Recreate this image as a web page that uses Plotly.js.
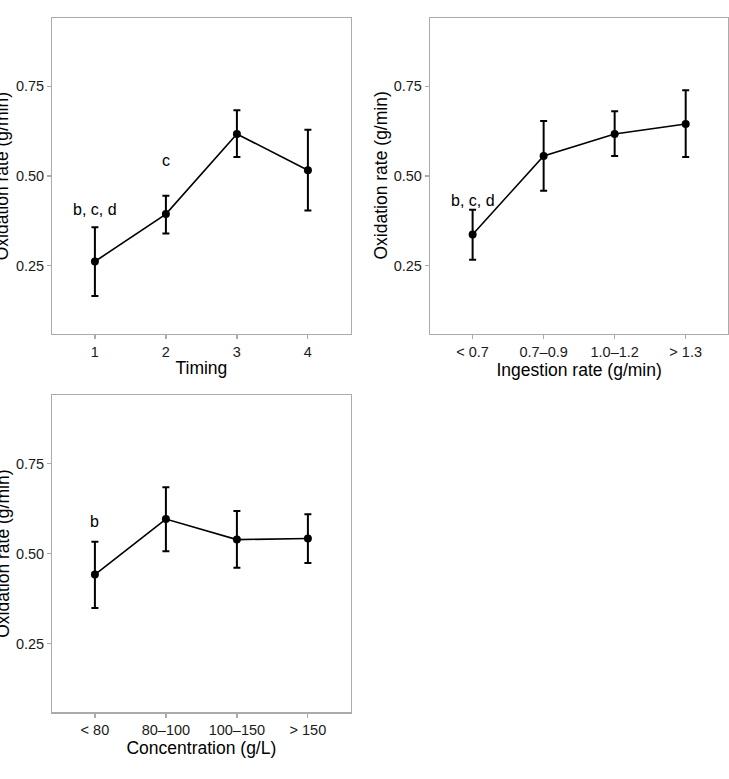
<!DOCTYPE html>
<html>
<head>
<meta charset="utf-8">
<script src="https://cdn.plot.ly/plotly-3.0.1.min.js"></script>
<style>html,body{margin:0;padding:0;background:#fff;}#chart{width:729px;height:779px;}</style>
</head>
<body>
<div id="chart"></div>
<script>
// Panel 1: Timing
const timingCats = ["1", "2", "3", "4"];
const timingMean = [0.262, 0.394, 0.617, 0.516];
const timingLow  = [0.166, 0.340, 0.553, 0.404];
const timingHigh = [0.357, 0.445, 0.683, 0.629];

// Panel 2: Ingestion rate
const ingestCats = ["< 0.7", "0.7\u20130.9", "1.0\u20131.2", "> 1.3"];
const ingestMean = [0.337, 0.556, 0.617, 0.645];
const ingestLow  = [0.267, 0.459, 0.556, 0.553];
const ingestHigh = [0.406, 0.653, 0.680, 0.739];

// Panel 3: Concentration
const concCats = ["< 80", "80\u2013100", "100\u2013150", "> 150"];
const concMean = [0.442, 0.596, 0.539, 0.542];
const concLow  = [0.349, 0.507, 0.461, 0.474];
const concHigh = [0.533, 0.684, 0.618, 0.609];

// Significance labels (category index within each panel)
const labelPanel = [1, 1, 2, 3];
const labelCatIndex = [0, 1, 0, 0];
const labelY = [0.408, 0.542, 0.433, 0.589];
const labelText = ["b, c, d", "c", "b, c, d", "b"];

const xTitles = ["Timing", "Ingestion rate (g/min)", "Concentration (g/L)"];
const yTitle = "Oxidation rate (g/min)";

const W = 729, H = 779;
const FONT = "Liberation Sans, Arial, Helvetica, sans-serif";

function mkTrace(cats, mean, low, high, xa, ya) {
  return {
    type: "scatter", mode: "lines+markers",
    x: cats, y: mean, xaxis: xa, yaxis: ya,
    line: {color: "#000", width: 1.6},
    marker: {color: "#000", size: 8},
    error_y: {
      type: "data", symmetric: false,
      array: high.map((h, i) => h - mean[i]),
      arrayminus: low.map((l, i) => mean[i] - l),
      color: "#000", thickness: 2, width: 3.5
    },
    hoverinfo: "skip", showlegend: false
  };
}

const data = [
  mkTrace(timingCats, timingMean, timingLow, timingHigh, "x", "y"),
  mkTrace(ingestCats, ingestMean, ingestLow, ingestHigh, "x2", "y2"),
  mkTrace(concCats, concMean, concLow, concHigh, "x3", "y3")
];

const dxL = [52.3 / W, 350.5 / W];
const dxR = [430 / W, 728.3 / W];
const dyT = [1 - 334 / H, 1 - 18 / H];
const dyB = [1 - 712.3 / H, 1 - 395 / H];

function xaxis(domain, anchor, title) {
  return {
    domain: domain, anchor: anchor, type: "category", range: [-0.6, 3.6],
    showline: true, mirror: true, linecolor: "#ababab", linewidth: 1.2,
    ticks: "outside", ticklen: 4, tickcolor: "#ababab", tickwidth: 1.2,
    showgrid: false, zeroline: false,
    tickfont: {family: FONT, size: 14.5, color: "#1a1a1a"},
    title: {text: title, font: {family: FONT, size: 17.5, color: "#000"}, standoff: 3},
    fixedrange: true
  };
}
function yaxis(domain, anchor) {
  return {
    domain: domain, anchor: anchor, range: [0.06, 0.94],
    tickvals: [0.25, 0.5, 0.75], ticktext: ["0.25", "0.50", "0.75"],
    showline: true, mirror: true, linecolor: "#ababab", linewidth: 1.2,
    ticks: "outside", ticklen: 4, tickcolor: "#ababab", tickwidth: 1.2,
    showgrid: false, zeroline: false,
    tickfont: {family: FONT, size: 14.5, color: "#1a1a1a"},
    fixedrange: true
  };
}

const annRef = {1: ["x", "y"], 2: ["x2", "y2"], 3: ["x3", "y3"]};
const annotations = labelText.map((t, i) => ({
  xref: annRef[labelPanel[i]][0], yref: annRef[labelPanel[i]][1],
  x: labelCatIndex[i], y: labelY[i], text: t, showarrow: false,
  xanchor: "center", yanchor: "middle",
  font: {family: FONT, size: 16, color: "#000"}
}));

// y-axis titles (rotated), positioned left of each panel's tick labels
const yTitleCenters = [[2.3, 176], [380.5, 176], [2.3, 553.5]];
yTitleCenters.forEach(p => {
  annotations.push({
    xref: "paper", yref: "paper", x: p[0] / W, y: 1 - p[1] / H,
    xanchor: "center", yanchor: "middle", textangle: -90,
    text: yTitle, showarrow: false,
    font: {family: FONT, size: 17.5, color: "#000"}
  });
});

const layout = {
  width: W, height: H,
  margin: {l: 0, r: 0, t: 0, b: 0},
  paper_bgcolor: "#fff", plot_bgcolor: "#fff",
  showlegend: false,
  xaxis: xaxis(dxL, "y", xTitles[0]),
  yaxis: yaxis(dyT, "x"),
  xaxis2: xaxis(dxR, "y2", xTitles[1]),
  yaxis2: yaxis(dyT, "x2"),
  xaxis3: xaxis(dxL, "y3", xTitles[2]),
  yaxis3: yaxis(dyB, "x3"),
  annotations: annotations
};

Plotly.newPlot("chart", data, layout, {displayModeBar: false, staticPlot: true});
</script>
</body>
</html>
